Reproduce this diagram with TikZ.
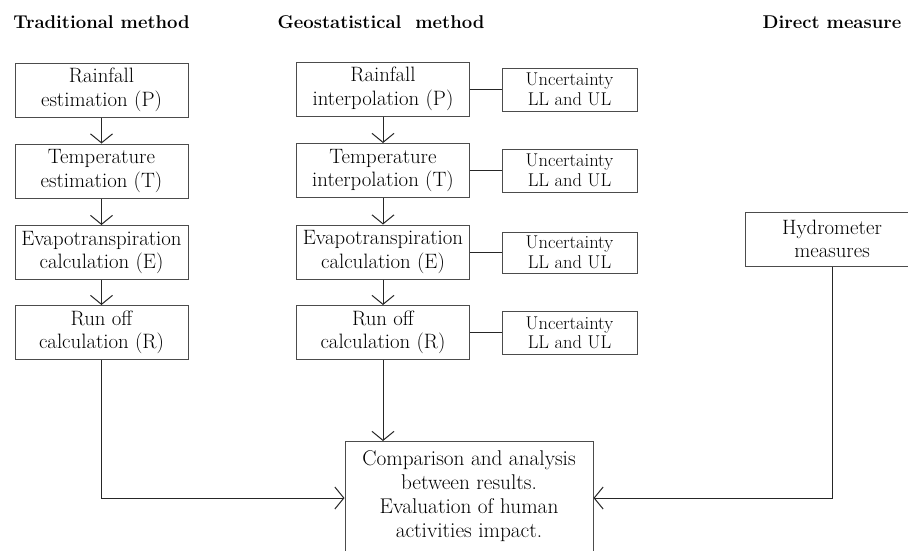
\documentclass[tikz,border=0pt]{standalone}
\usetikzlibrary{arrows.meta,calc}
\begin{document}
\begin{tikzpicture}[x=1pt,y=-1pt,
  line width=1pt,
  box/.style={draw=black!70, rectangle, inner sep=0pt, align=center,
    font=\fontsize{20.8}{23.5}\selectfont},
  mbox/.style={box, minimum width=173pt, minimum height=54pt},
  ubox/.style={box, minimum width=135pt, minimum height=43pt,
    font=\fontsize{18.5}{19.5}\selectfont},
  ttl/.style={font=\bfseries\fontsize{18.5}{22}\selectfont, anchor=base, inner sep=0pt},
  arr/.style={draw=black!85, -{Straight Barb[length=9pt,width=22pt,line width=1pt]}},
  lnk/.style={draw=black!85}]
\useasboundingbox (0,0) rectangle (908,550);
\clip (0,0) rectangle (908,550);
\fill[white] (0,0) rectangle (908,550);
% titles
\node[ttl] (t1) at (101.5,28.5) {Traditional method};
\node[ttl] (t2) at (381,28.5) {Geostatistical\ \ method};
\node[ttl] (t3) at (832,28.5) {Direct measure};
% traditional column
\node[mbox] (l1) at (101.5,90) {Rainfall\\estimation (P)};
\node[mbox] (l2) at (101.5,171) {Temperature\\estimation (T)};
\node[mbox] (l3) at (101.5,252.5) {Evapotranspiration\\calculation (E)};
\node[mbox] (l4) at (101.5,332.5) {Run off\\calculation (R)};
% geostatistical column
\node[mbox] (m1) at (383,89) {Rainfall\\interpolation (P)};
\node[mbox] (m2) at (383,170.5) {Temperature\\interpolation (T)};
\node[mbox] (m3) at (383,252) {Evapotranspiration\\calculation (E)};
\node[mbox] (m4) at (383,332.5) {Run off\\calculation (R)};
\node[ubox] (u1) at (569.5,89.5) {Uncertainty\\LL and UL};
\node[ubox] (u2) at (569.5,170.5) {Uncertainty\\LL and UL};
\node[ubox, minimum height=41pt] (u3) at (569.5,252.5) {Uncertainty\\LL and UL};
\node[ubox] (u4) at (569.5,333) {Uncertainty\\LL and UL};
% direct measure
\node[mbox] (h) at (832,239) {Hydrometer\\measures};
% comparison box (cut by the lower edge)
\node[box, minimum width=248pt, minimum height=130pt, anchor=north] (c) at (469,441) {};
\node[align=center, inner sep=0pt, font=\fontsize{21.3}{24}\selectfont] (ctext) at (469,496)
  {Comparison and analysis\\between results.\\Evaluation of human\\activities impact.};
\path (c.north west) ++(0,57) coordinate (cl);
\path (c.north east) ++(0,57) coordinate (cr);
% connectors
\draw[arr] (l1) -- (l2);
\draw[arr] (l2) -- (l3);
\draw[arr] (l3) -- (l4);
\draw[arr] (m1) -- (m2);
\draw[arr] (m2) -- (m3);
\draw[arr] (m3) -- (m4);
\draw[lnk] (m1.east) -- (m1.east -| u1.west);
\draw[lnk] (m2.east) -- (m2.east -| u2.west);
\draw[lnk] (m3.east) -- (m3.east -| u3.west);
\draw[lnk] (m4.east) -- (m4.east -| u4.west);
\draw[arr] (m4.south) -- (m4.south |- c.north);
\draw[arr] (l4.south) |- (cl);
\draw[arr] (h.south) |- (cr);
\end{tikzpicture}
\end{document}
